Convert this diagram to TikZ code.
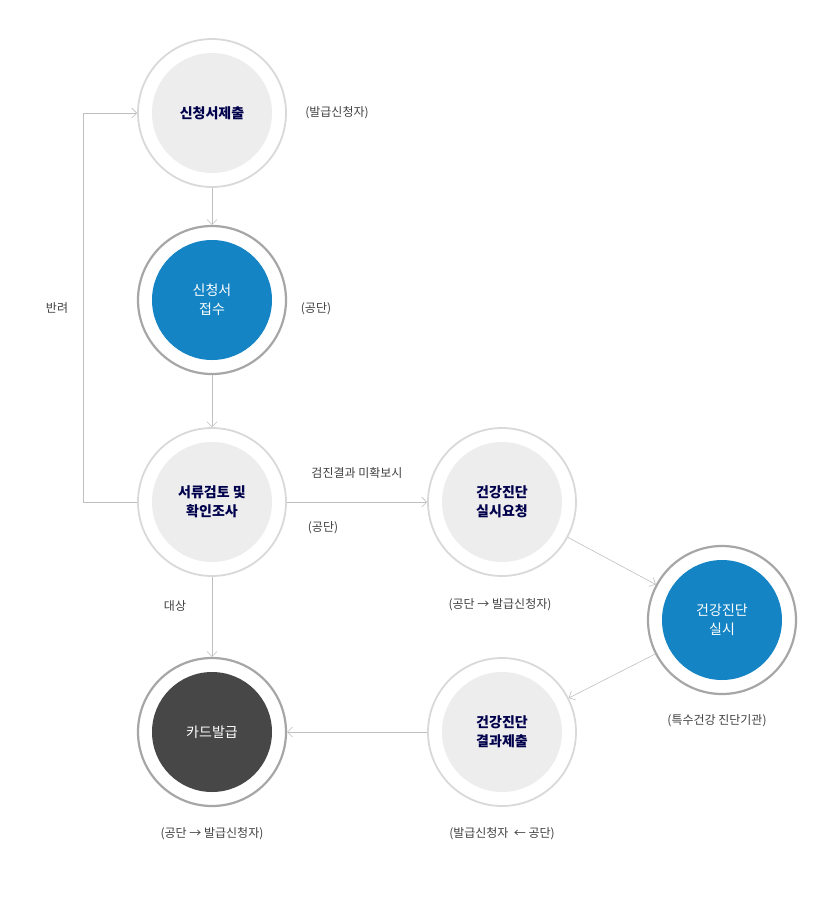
\documentclass[tikz,border=0pt]{standalone}
\usepackage{fontspec}
\setmainfont{Noto Sans CJK KR}
\usetikzlibrary{arrows.meta}
\begin{document}
\begin{tikzpicture}[x=1pt,y=-1pt,
  ring/.style={circle,draw=black!15,line width=1.8pt,fill=white,minimum size=148pt,inner sep=0pt},
  ringd/.style={circle,draw=black!35,line width=2.2pt,fill=white,minimum size=148pt,inner sep=0pt},
  gray/.style={circle,fill=black!7,minimum size=120pt,inner sep=0pt,align=center,font=\bfseries\fontsize{14}{19}\selectfont,text=blue!30!black},
  blue/.style={circle,fill={rgb,255:red,20;green,132;blue,196},minimum size=120pt,inner sep=0pt,align=center,font=\fontsize{14}{19}\selectfont,text=white},
  dark/.style={circle,fill=black!72,minimum size=120pt,inner sep=0pt,align=center,font=\fontsize{14}{19}\selectfont,text=white},
  conn/.style={draw=black!25,line width=0.6pt,-{Straight Barb[length=5pt,width=10pt]}},
  lab/.style={font=\fontsize{12}{14}\selectfont,text=black!75}]
\useasboundingbox (0,0) rectangle (833,906);
\node[ring] (o1) at (212,113) {}; \node[gray] (n1) at (212,113) {신청서제출};
\node[ringd] (o2) at (212,300) {}; \node[blue] (n2) at (212,300) {신청서\\접수};
\node[ring] (o3) at (212,502) {}; \node[gray] (n3) at (212,502) {서류검토 및\\확인조사};
\node[ring] (o4) at (502,502) {}; \node[gray] (n4) at (502,502) {건강진단\\실시요청};
\node[ringd] (o5) at (722,620) {}; \node[blue] (n5) at (722,620) {건강진단\\실시};
\node[ring] (o6) at (502,732) {}; \node[gray] (n6) at (502,732) {건강진단\\결과제출};
\node[ringd] (o7) at (212,732) {}; \node[dark] (n7) at (212,732) {카드발급};
\path[conn] (o1) -- (o2);
\path[conn] (o2) -- (o3);
\path[conn] (o3) -- (o4);
\path[conn] (o4) -- (o5);
\path[conn] (o5) -- (o6);
\path[conn] (o6) -- (o7);
\path[conn] (o3) -- (o7);
\coordinate (r1) at (83,502); \coordinate (r2) at (83,113);
\path[conn] (o3.west) -- (r1) -- (r2) -- (o1.west);
\node[lab] (l1) at (337,113) {(발급신청자)};
\node[lab] (l2) at (316,309) {(공단)};
\node[lab] (l3) at (57,308) {반려};
\node[lab] (l4) at (357,473) {검진결과 미확보시};
\node[lab] (l5) at (323,528) {(공단)};
\node[lab] (l6) at (175,606) {대상};
\node[lab] (l7) at (500,605) {(공단 → 발급신청자)};
\node[lab] (l8) at (717,721) {(특수건강 진단기관)};
\node[lab] (l9) at (212,834) {(공단 → 발급신청자)};
\node[lab] (l10) at (502,834) {(발급신청자 ~← 공단)};
\end{tikzpicture}
\end{document}
